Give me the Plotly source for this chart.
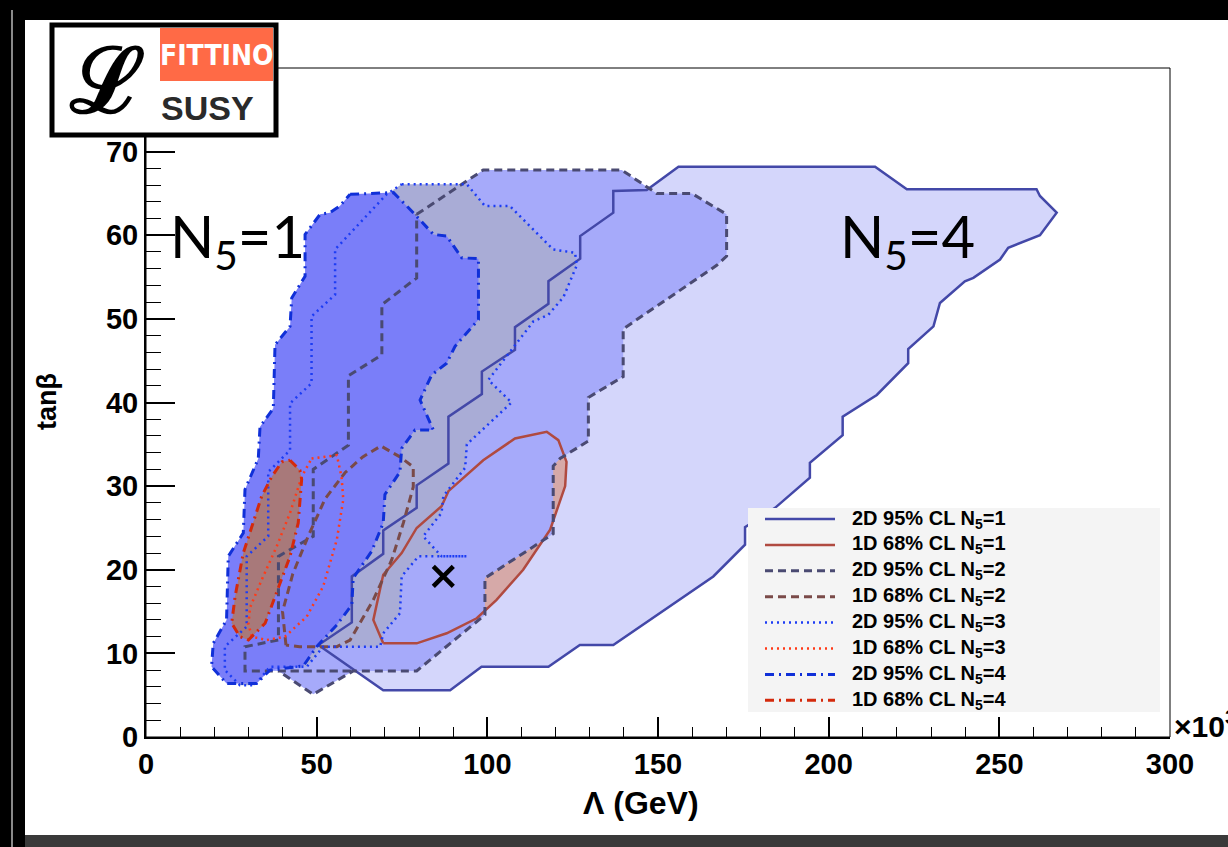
import plotly.graph_objects as go

# ---------------- data (Lambda in units of 10^3 GeV, tan beta) ----------------
N1_2D_X = [50.5, 60.3, 60.3, 69.5, 69.5, 79.3, 79.3, 88.6, 88.6, 98.4, 98.4, 108.1, 108.1, 117.9, 117.9,
           127.2, 127.2, 136.9, 136.9, 146.7, 156.0, 213.6, 222.9, 260.9, 261.9, 266.8, 261.9, 252.6,
           250.2, 242.4, 239.9, 232.6, 230.7, 223.3, 223.3, 214.1, 204.1, 204.1, 194.5, 194.5, 184.3,
           175.5, 175.5, 166.2, 136.9, 127.1, 117.9, 98.3, 89.1, 69.5]
N1_2D_Y = [11.0, 13.7, 19.2, 21.9, 24.7, 27.4, 30.1, 32.7, 38.3, 41.0, 43.7, 46.3, 49.0, 51.8, 54.5,
           57.2, 59.9, 62.7, 65.3, 65.4, 68.2, 68.2, 65.5, 65.5, 64.7, 62.7, 60.0, 58.5,
           57.1, 54.9, 54.5, 51.9, 49.1, 46.4, 44.7, 40.9, 38.3, 36.1, 32.8, 31.0, 27.4,
           25.1, 23.0, 19.2, 11.0, 11.0, 8.4, 8.4, 5.6, 5.6]

N1_1D_X = [69.5, 79.3, 88.1, 96.9, 102.7, 110.5, 118.4, 122.8, 123.2, 120.8, 117.4, 108.1, 98.8, 88.6,
           86.6, 79.3, 74.9, 69.5, 66.6]
N1_1D_Y = [11.2, 11.2, 12.4, 14.2, 16.4, 20.0, 24.8, 30.0, 32.9, 35.5, 36.5, 35.7, 33.1, 29.4,
           27.6, 25.0, 22.0, 19.4, 14.0]

N2_2D_X = [79.3, 98.8, 139.4, 149.6, 159.9, 170.1, 170.1, 167.2, 139.8, 139.8, 129.6, 129.6, 121.3, 119.3,
           119.3, 99.3, 99.3, 79.3, 60.7, 49.0, 38.8, 60.7, 38.8, 29.0, 29.0, 38.8, 38.8, 49.0, 49.0,
           59.3, 59.3, 69.1, 69.1, 79.3]
N2_2D_Y = [62.5, 67.8, 67.8, 65.0, 65.0, 62.5, 57.5, 56.4, 48.8, 43.1, 40.6, 35.4, 33.3, 32.4,
           24.3, 19.0, 14.6, 7.9, 7.9, 5.1, 7.9, 7.9, 7.9, 7.9, 10.8, 11.6, 21.6, 24.0, 32.0,
           34.9, 43.2, 45.7, 51.7, 54.9]

N2_1D_X = [41.0, 40.0, 43.0, 47.5, 52.5, 58.3, 63.5, 68.8, 74.4, 78.3, 78.3, 75.4, 72.0, 66.6, 59.8,
           55.9, 45.0]
N2_1D_Y = [11.0, 15.0, 19.5, 24.0, 28.5, 31.6, 33.5, 34.8, 33.5, 32.3, 29.9, 25.6, 21.2, 16.4, 11.6,
           10.8, 10.8]

N3_2D_X = [74.9, 94.0, 99.3, 106.6, 119.3, 125.7, 126.2, 122.3, 117.9, 113.5, 100.3, 107.1, 94.0, 93.5,
           87.1, 86.6, 81.2, 86.6, 94.0, 79.8, 74.9, 74.4, 69.5, 68.6, 51.9, 47.1, 36.3, 31.9, 27.5,
           23.1, 23.1, 29.5, 29.5, 35.8, 35.8, 42.2, 42.2, 48.5, 48.5, 55.4, 55.4, 70.5]
N3_2D_Y = [66.1, 66.1, 63.5, 63.5, 58.3, 57.9, 56.4, 52.6, 50.5, 49.7, 42.7, 40.0, 35.0, 32.2,
           28.8, 26.8, 24.0, 21.6, 21.6, 21.6, 19.2, 14.8, 12.4, 10.8, 10.8, 8.4, 8.4, 6.2, 6.2,
           8.0, 10.8, 13.2, 21.6, 24.0, 31.7, 34.3, 39.9, 42.3, 50.3, 52.9, 58.3, 64.9]

N3_1D_X = [48.5, 55.9, 57.3, 57.8, 55.9, 51.9, 47.1, 40.7, 35.4, 31.0, 30.0, 30.5, 33.9, 38.3, 42.2, 45.6]
N3_1D_Y = [33.3, 33.7, 31.1, 28.4, 23.6, 18.0, 14.4, 12.0, 11.6, 12.0, 13.5, 15.5, 18.8, 22.8, 26.8, 31.1]

N4_2D_X = [59.8, 72.5, 78.3, 84.2, 88.1, 92.5, 97.4, 97.4, 90.5, 88.1, 83.7, 80.3, 84.2, 78.8, 74.9,
           74.4, 70.0, 69.5, 66.1, 60.7, 60.3, 55.9, 50.0, 46.1, 36.3, 32.4, 23.6, 19.2, 19.7, 23.6,
           24.1, 28.5, 29.0, 32.9, 33.4, 37.3, 37.8, 42.2, 42.7, 46.6, 46.6, 51.0, 53.9, 56.8]
N4_2D_Y = [64.9, 65.1, 62.7, 60.1, 59.9, 57.3, 57.2, 49.9, 46.7, 44.7, 43.3, 40.3, 36.7, 36.7, 34.5,
           31.7, 29.0, 25.6, 22.2, 19.0, 15.8, 13.4, 10.8, 8.5, 8.0, 6.4, 6.4, 8.4, 11.2, 14.0,
           21.6, 24.4, 29.6, 33.3, 37.1, 39.3, 46.9, 49.1, 52.5, 55.1, 60.1, 62.5, 62.7, 63.5]

N4_1D_X = [42.2, 45.1, 45.6, 44.6, 42.2, 38.3, 34.9, 30.0, 27.5, 25.1, 26.1, 28.5, 31.4, 33.9, 36.8, 39.8]
N4_1D_Y = [33.1, 31.9, 30.8, 25.6, 21.6, 17.2, 13.6, 11.6, 12.0, 13.6, 16.8, 22.0, 25.6, 28.8, 31.1, 32.9]

BEST_X = [87.1]
BEST_Y = [19.2]

X_TICKS = [0, 50, 100, 150, 200, 250, 300]
Y_TICKS = [0, 10, 20, 30, 40, 50, 60, 70]

LEGEND_LABELS = ["2D 95% CL N<sub>5</sub>=1", "1D 68% CL N<sub>5</sub>=1",
                 "2D 95% CL N<sub>5</sub>=2", "1D 68% CL N<sub>5</sub>=2",
                 "2D 95% CL N<sub>5</sub>=3", "1D 68% CL N<sub>5</sub>=3",
                 "2D 95% CL N<sub>5</sub>=4", "1D 68% CL N<sub>5</sub>=4"]

# ---------------- layout helpers ----------------
W, H = 1228, 847
L, R, T, B = 146, 1170, 68, 737


def fx(px):
    return (px - L) / (R - L)


def fy(py):
    return (B - py) / (B - T)


def close(a):
    return list(a) + [a[0]]


fig = go.Figure()

# fills (drawn in ROOT order, later ones cover earlier ones)
fills = [
    (N1_2D_X, N1_2D_Y, "#d4d6fb"),
    (N1_1D_X, N1_1D_Y, "#d6a9a8"),
    (N2_2D_X, N2_2D_Y, "#a6aafa"),
    (N3_2D_X, N3_2D_Y, "#a9acd6"),
    (N4_2D_X, N4_2D_Y, "#7a7ef9"),
    (N4_1D_X, N4_1D_Y, "#a8797a"),
]
for xs, ys, col in fills:
    fig.add_trace(go.Scatter(x=close(xs), y=close(ys), mode="lines", fill="toself",
                             fillcolor=col, line=dict(width=0), showlegend=False,
                             hoverinfo="skip"))

# outlines
styles = [
    ("#4348a8", "solid", 2.5),
    ("#b04a40", "solid", 2.5),
    ("#4a4a72", "8px,5px", 3),
    ("#7a4a48", "8px,5px", 3),
    ("#1c3cf4", "2px,4px", 2.5),
    ("#ff3a18", "2px,4px", 2.5),
    ("#1030d8", "9px,5px,2px,5px", 3),
    ("#d42a0c", "9px,5px,2px,5px", 3),
]
polys = [(N1_2D_X, N1_2D_Y), (N1_1D_X, N1_1D_Y), (N2_2D_X, N2_2D_Y), (N2_1D_X, N2_1D_Y),
         (N3_2D_X, N3_2D_Y), (N3_1D_X, N3_1D_Y), (N4_2D_X, N4_2D_Y), (N4_1D_X, N4_1D_Y)]
for (xs, ys), (col, dash, w), name in zip(polys, styles, LEGEND_LABELS):
    fig.add_trace(go.Scatter(x=close(xs), y=close(ys), mode="lines", name=name,
                             line=dict(color=col, dash=dash, width=w),
                             showlegend=False, hoverinfo="skip"))

fig.add_trace(go.Scatter(x=BEST_X, y=BEST_Y, mode="markers", showlegend=False,
                         marker=dict(symbol="x-thin", size=20, color="black",
                                     line=dict(color="black", width=4.5)),
                         hoverinfo="skip"))

bold = dict(family="Liberation Sans", size=29, color="black", weight="bold")

fig.update_layout(
    width=W, height=H,
    margin=dict(l=L, r=W - R, t=T, b=H - B, pad=0),
    paper_bgcolor="#000000",
    plot_bgcolor="#ffffff",
    showlegend=False,
    xaxis=dict(range=[0, 300], tickvals=X_TICKS, ticktext=[str(v) for v in X_TICKS],
               ticks="inside", ticklen=20, tickwidth=1.5, tickcolor="black",
               minor=dict(dtick=10, ticks="inside", ticklen=10, tickwidth=1.2, tickcolor="black"),
               showgrid=False, zeroline=False, showline=True, linecolor="black", linewidth=2,
               tickfont=bold, layer="above traces"),
    yaxis=dict(range=[0, 80], tickvals=Y_TICKS, ticktext=[str(v) for v in Y_TICKS],
               ticks="inside", ticklen=29, tickwidth=1.5, tickcolor="black",
               minor=dict(dtick=2, ticks="inside", ticklen=15, tickwidth=1.2, tickcolor="black"),
               showgrid=False, zeroline=False, showline=True, linecolor="black", linewidth=2,
               tickfont=bold, layer="above traces"),
)

shapes = [
    # white canvas
    dict(type="rect", xref="paper", yref="paper", x0=fx(25), x1=fx(1240), y0=fy(835), y1=fy(20),
         fillcolor="white", line=dict(width=0), layer="below"),
    dict(type="rect", xref="paper", yref="paper", x0=fx(25), x1=fx(1240), y0=fy(847), y1=fy(835),
         fillcolor="#3a3a3a", line=dict(width=0), layer="below"),
    dict(type="line", xref="paper", yref="paper", x0=fx(12), x1=fx(12), y0=fy(847), y1=fy(10),
         line=dict(color="#8a8a8a", width=2), layer="below"),
    # frame
    dict(type="rect", xref="paper", yref="paper", x0=0, x1=1, y0=0, y1=1,
         line=dict(color="black", width=1), layer="above"),
    # logo box
    dict(type="rect", xref="paper", yref="paper", x0=fx(52), x1=fx(276), y0=fy(135), y1=fy(25),
         fillcolor="white", line=dict(color="black", width=5), layer="above"),
    dict(type="rect", xref="paper", yref="paper", x0=fx(160), x1=fx(273), y0=fy(81), y1=fy(28),
         fillcolor="#ff6a46", line=dict(width=0), layer="above"),
    # legend box
    dict(type="rect", xref="paper", yref="paper", x0=fx(748), x1=fx(1160), y0=fy(712), y1=fy(508),
         fillcolor="#f4f4f4", line=dict(width=0), layer="above"),
]

ann = [
    dict(x=fx(237), y=fy(240), text="N<sub>5</sub>=1",
         font=dict(family="Lato", size=58, color="black")),
    dict(x=fx(907), y=fy(240), text="N<sub>5</sub>=4",
         font=dict(family="Lato", size=58, color="black")),
    dict(x=fx(47), y=fy(402), text="tanβ", textangle=-90,
         font=dict(family="Liberation Sans", size=27, color="black", weight="bold")),
    dict(x=fx(641), y=fy(803), text="Λ (GeV)",
         font=dict(family="Liberation Sans", size=32, color="black", weight="bold")),
    dict(x=fx(1172), y=fy(724), text="×10<sup>3</sup>", xanchor="left",
         font=dict(family="Liberation Sans", size=30, color="black", weight="bold")),
    # logo texts
    dict(x=fx(216), y=fy(55), text="FITTINO",
         font=dict(family="DejaVu Sans Condensed, Liberation Sans Narrow, Liberation Sans",
                   size=28, color="white", weight="bold")),
    dict(x=fx(207), y=fy(108), text="SUSY",
         font=dict(family="Liberation Sans", size=34, color="#2a2a2a", weight="bold")),
    dict(x=fx(107), y=fy(80), text="ℒ",
         font=dict(family="DejaVu Serif", size=90, color="black", weight="bold")),
]

# manual legend entries
for i, ((col, dash, w), label) in enumerate(zip(styles, LEGEND_LABELS)):
    yy = 519 + 25.9 * i
    shapes.append(dict(type="line", xref="paper", yref="paper", x0=fx(765), x1=fx(835),
                       y0=fy(yy), y1=fy(yy), line=dict(color=col, dash=dash, width=w),
                       layer="above"))
    ann.append(dict(x=fx(850), y=fy(yy), text=label, xanchor="left",
                    font=dict(family="Liberation Sans", size=20, color="black", weight="bold")))

for a in ann:
    a.setdefault("xref", "paper")
    a.setdefault("yref", "paper")
    a.setdefault("showarrow", False)
    a.setdefault("xanchor", "center")
    a.setdefault("yanchor", "middle")

fig.update_layout(shapes=shapes, annotations=ann)

fig.write_html("out.html")
